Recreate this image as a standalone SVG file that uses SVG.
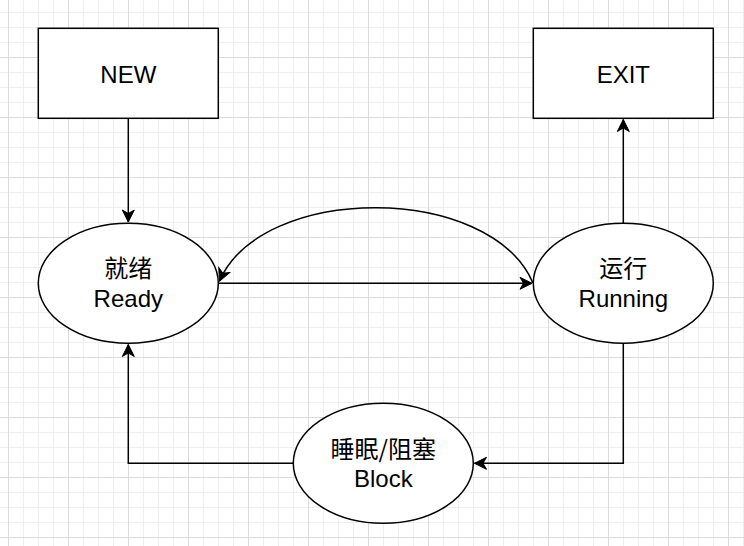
<svg xmlns="http://www.w3.org/2000/svg" width="744" height="546" viewBox="0 0 744 546">
  <style>
    .shape { fill: #ffffff; stroke: #000000; stroke-width: 1.5; }
    .edge { fill: none; stroke: #000000; stroke-width: 1.5; }
    .lbl { font-family: "Liberation Sans", Arial, "Noto Sans CJK SC", sans-serif; font-size: 24px; fill: #000000; text-anchor: middle; }
    .cjk { font-family: "Noto Sans CJK SC", "Liberation Sans", sans-serif; font-size: 24px; fill: #000000; text-anchor: middle; }
  </style>
  <defs>
    <pattern id="grid" patternUnits="userSpaceOnUse" x="8" y="57" width="60" height="60">
      <path d="M15.5 0V60M30.5 0V60M45.5 0V60M0 15.5H60M0 30.5H60M0 45.5H60" stroke="#efefef" stroke-width="1" fill="none"/>
      <path d="M0.5 0V60M0 0.5H60" stroke="#dcdcdc" stroke-width="1" fill="none"/>
    </pattern>
    <marker id="arrow" markerUnits="userSpaceOnUse" markerWidth="16" markerHeight="16" viewBox="-13 -8 16 16" refX="0" refY="0" orient="auto">
      <path d="M0,0 L-12,-6 L-8.5,0 L-12,6 Z" fill="#000000" stroke="#000000" stroke-width="1"/>
    </marker>
  </defs>
  <rect x="0" y="0" width="744" height="546" fill="#ffffff"/>
  <rect x="0" y="0" width="744" height="546" fill="url(#grid)"/>

  <g id="connectors">
    <path class="edge" d="M128.3 118.3 V222" marker-end="url(#arrow)"/>
    <path class="edge" d="M218.3 283.3 H532" marker-end="url(#arrow)"/>
    <path class="edge" d="M533 283 C490 183 262 183 219.5 281" marker-end="url(#arrow)"/>
    <path class="edge" d="M623.3 223.3 V119.5" marker-end="url(#arrow)"/>
    <path class="edge" d="M623.3 343.3 V463.3 H474.5" marker-end="url(#arrow)"/>
    <path class="edge" d="M293.3 463.3 H128.3 V344.5" marker-end="url(#arrow)"/>
  </g>

  <g id="new">
    <rect class="shape" x="38.3" y="28.3" width="180" height="90"/>
    <text class="lbl" x="128.3" y="83">NEW</text>
  </g>
  <g id="exit">
    <rect class="shape" x="533.3" y="28.3" width="180" height="90"/>
    <text class="lbl" x="623.3" y="83">EXIT</text>
  </g>
  <g id="ready">
    <ellipse class="shape" cx="128.3" cy="283.3" rx="90" ry="60"/>
    <text class="cjk" x="128.3" y="277">就绪</text>
    <text class="lbl" x="128.3" y="307.3">Ready</text>
  </g>
  <g id="running">
    <ellipse class="shape" cx="623.3" cy="283.3" rx="90" ry="60"/>
    <text class="cjk" x="623.3" y="277">运行</text>
    <text class="lbl" x="623.3" y="307.3">Running</text>
  </g>
  <g id="block">
    <ellipse class="shape" cx="383.3" cy="463.3" rx="90" ry="60"/>
    <text class="cjk" x="383.3" y="457.5">睡眠/阻塞</text>
    <text class="lbl" x="383.3" y="487">Block</text>
  </g>
</svg>
